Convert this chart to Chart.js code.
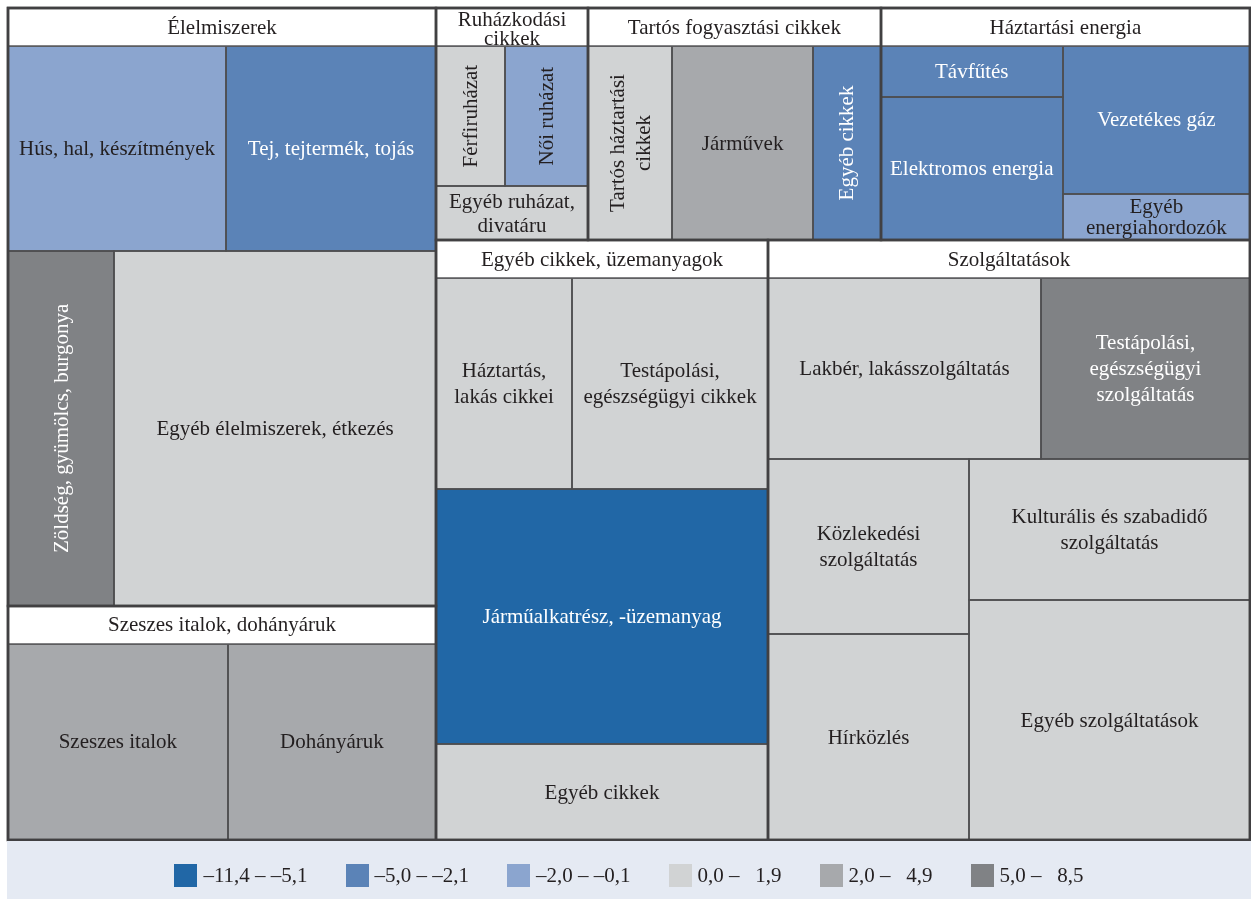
<!DOCTYPE html>
<html>
<head>
<meta charset="utf-8">
<script src="https://cdn.jsdelivr.net/npm/chart.js@4"></script>
<style>
  html, body { margin: 0; padding: 0; background: #ffffff; }
  #wrap { width: 1251px; height: 899px; }
</style>
</head>
<body>
<div id="wrap"><canvas id="myChart"></canvas></div>
<script>
// group headers
const groupNames = [
  "Élelmiszerek",
  "Szeszes italok, dohányáruk",
  "Ruházkodási\ncikkek",
  "Tartós fogyasztási cikkek",
  "Háztartási energia",
  "Egyéb cikkek, üzemanyagok",
  "Szolgáltatások",
];

// leaf cells
const itemNames = [
  "Hús, hal, készítmények",
  "Tej, tejtermék, tojás",
  "Zöldség, gyümölcs, burgonya",
  "Egyéb élelmiszerek, étkezés",
  "Szeszes italok",
  "Dohányáruk",
  "Férfiruházat",
  "Női ruházat",
  "Egyéb ruházat,\ndivatáru",
  "Tartós háztartási\ncikkek",
  "Járművek",
  "Egyéb cikkek",
  "Távfűtés",
  "Elektromos energia",
  "Vezetékes gáz",
  "Egyéb\nenergiahordozók",
  "Háztartás,\nlakás cikkei",
  "Testápolási,\negészségügyi cikkek",
  "Járműalkatrész, -üzemanyag",
  "Egyéb cikkek",
  "Lakbér, lakásszolgáltatás",
  "Testápolási,\negészségügyi\nszolgáltatás",
  "Közlekedési\nszolgáltatás",
  "Hírközlés",
  "Kulturális és szabadidő\nszolgáltatás",
  "Egyéb szolgáltatások",
];

// weights (share of the basket, %)
const itemWeights = [
  4.76, 4.58, 4.01, 12.17,
  4.59, 4.35,
  1.03, 1.24, 0.87,
  1.74, 2.91, 1.40,
  0.99, 2.77, 2.95, 0.92,
  3.06, 4.40, 9.02, 3.39,
  5.26, 4.03, 3.75, 4.41, 4.22, 7.18,
];

// price change class (index into legend bins)
const itemBin = [
  2, 1, 5, 3,
  4, 4,
  3, 2, 3,
  3, 4, 1,
  1, 1, 1, 2,
  3, 3, 0, 3,
  3, 5, 3, 3, 3, 3,
];

const rotatedItems = [2, 6, 7, 9, 11];

const binLabels = [
  "–11,4 – –5,1",
  "–5,0 – –2,1",
  "–2,0 – –0,1",
  "0,0 – \u20071,9",
  "2,0 – \u20074,9",
  "5,0 – \u20078,5",
];
const binColors = ["#2167a6", "#5b83b7", "#8ba5cf", "#d1d3d4", "#a7a9ac", "#808285"];
const whiteText = [0, 1, 5];

// how the cells nest (h = side by side, v = stacked)
const tree = { dir: "h", kids: [
  { dir: "v", kids: [
    { group: 0, dir: "v", kids: [{ dir: "h", kids: [0, 1] }, { dir: "h", kids: [2, 3] }] },
    { group: 1, dir: "h", kids: [4, 5] },
  ] },
  { dir: "v", kids: [
    { dir: "h", kids: [
      { group: 2, dir: "v", kids: [{ dir: "h", kids: [6, 7] }, 8] },
      { group: 3, dir: "h", kids: [9, 10, 11] },
      { group: 4, dir: "h", kids: [{ dir: "v", kids: [12, 13] }, { dir: "v", kids: [14, 15] }] },
    ] },
    { dir: "h", kids: [
      { group: 5, dir: "v", kids: [{ dir: "h", kids: [16, 17] }, 18, 19] },
      { group: 6, dir: "v", kids: [
        { dir: "h", kids: [20, 21] },
        { dir: "h", kids: [{ dir: "v", kids: [22, 23] }, { dir: "v", kids: [24, 25] }] },
      ] },
    ] },
  ] },
] };

const HEADER = 38;
const FONT = "21px 'Liberation Serif', 'DejaVu Serif', serif";
const DARK = "#231f20";

function total(node) {
  if (typeof node === "number") return itemWeights[node];
  return node.kids.reduce((s, k) => s + total(k), 0);
}

// header pixels that sit inside a node vertically
function fixedH(node) {
  if (typeof node === "number") return 0;
  const hs = node.kids.map(fixedH);
  const inner = node.dir === "v" ? hs.reduce((a, b) => a + b, 0) : Math.max(...hs);
  return inner + (node.group !== undefined ? HEADER : 0);
}

function place(node, x0, y0, x1, y1, out) {
  if (typeof node === "number") {
    out.cells.push({ i: node, x0, y0, x1, y1 });
    return;
  }
  if (node.group !== undefined) {
    out.groups.push({ g: node.group, x0, y0, x1, y1 });
    y0 += HEADER;
  }
  const sum = total(node);
  if (node.dir === "h") {
    let x = x0;
    node.kids.forEach((k) => {
      const w = ((x1 - x0) * total(k)) / sum;
      place(k, x, y0, x + w, y1, out);
      x += w;
    });
  } else {
    const free = y1 - y0 - node.kids.reduce((s, k) => s + fixedH(k), 0);
    let y = y0;
    node.kids.forEach((k) => {
      const h = (free * total(k)) / sum + fixedH(k);
      place(k, x0, y, x1, y + h, out);
      y += h;
    });
  }
}

function drawLabel(ctx, text, cx, cy, color, rotate, room) {
  const lines = text.split("\n");
  const lh = Math.min(26, room / lines.length);
  ctx.save();
  ctx.translate(cx, cy);
  if (rotate) ctx.rotate(-Math.PI / 2);
  ctx.fillStyle = color;
  ctx.font = FONT;
  ctx.textAlign = "center";
  ctx.textBaseline = "middle";
  lines.forEach((l, k) => {
    ctx.fillText(l, 0, (k - (lines.length - 1) / 2) * lh + 1);
  });
  ctx.restore();
}

const treemapCells = {
  id: "treemapCells",
  afterDatasetsDraw(chart) {
    const { ctx, scales: { x, y } } = chart;
    const left = x.getPixelForValue(0);
    const right = x.getPixelForValue(100);
    const top = y.getPixelForValue(100);
    const bottom = y.getPixelForValue(0);
    const out = { cells: [], groups: [] };
    place(tree, left, top, right, bottom, out);
    const r = (v) => Math.round(v);

    ctx.save();
    // cells
    out.cells.forEach((c) => {
      ctx.fillStyle = binColors[itemBin[c.i]];
      ctx.fillRect(r(c.x0), r(c.y0), r(c.x1) - r(c.x0), r(c.y1) - r(c.y0));
    });
    ctx.lineWidth = 1.5;
    ctx.strokeStyle = "#4d4d4f";
    out.cells.forEach((c) => {
      ctx.strokeRect(r(c.x0), r(c.y0), r(c.x1) - r(c.x0), r(c.y1) - r(c.y0));
    });
    out.cells.forEach((c) => {
      const rot = rotatedItems.includes(c.i);
      const w = c.x1 - c.x0;
      const h = c.y1 - c.y0;
      const color = whiteText.includes(itemBin[c.i]) ? "#ffffff" : DARK;
      drawLabel(ctx, itemNames[c.i], (c.x0 + c.x1) / 2, (c.y0 + c.y1) / 2, color, rot, (rot ? w : h) - 6);
    });

    // group headers
    out.groups.forEach((g) => {
      ctx.fillStyle = "#ffffff";
      ctx.fillRect(r(g.x0), r(g.y0), r(g.x1) - r(g.x0), HEADER);
      ctx.lineWidth = 1.5;
      ctx.strokeStyle = "#5a5a5c";
      ctx.beginPath();
      ctx.moveTo(r(g.x0), r(g.y0) + HEADER);
      ctx.lineTo(r(g.x1), r(g.y0) + HEADER);
      ctx.stroke();
      const lines = groupNames[g.g].split("\n").length;
      drawLabel(ctx, groupNames[g.g], (g.x0 + g.x1) / 2, g.y0 + HEADER / 2 + (lines > 1 ? 2 : 0), DARK, false, HEADER);
    });
    ctx.lineWidth = 2.5;
    ctx.strokeStyle = "#414042";
    out.groups.forEach((g) => {
      ctx.strokeRect(r(g.x0), r(g.y0), r(g.x1) - r(g.x0), r(g.y1) - r(g.y0));
    });
    ctx.strokeRect(r(left), r(top), r(right) - r(left), r(bottom) - r(top));
    ctx.restore();
  },
};

// legend band under the plot
const binLegend = {
  id: "binLegend",
  afterDraw(chart) {
    const { ctx, chartArea, width, height } = chart;
    ctx.save();
    ctx.fillStyle = "#e5eaf3";
    ctx.fillRect(chartArea.left - 1, chartArea.bottom + 1, width - chartArea.left + 1, height - chartArea.bottom);
    ctx.font = FONT;
    ctx.textBaseline = "middle";
    const box = 23;
    const gap = 6;
    const spacing = 38;
    const widths = binLabels.map((t) => box + gap + ctx.measureText(t).width);
    const totalW = widths.reduce((a, b) => a + b, 0) + spacing * (binLabels.length - 1);
    let x = (chartArea.left + chartArea.right) / 2 - totalW / 2;
    const cy = chartArea.bottom + 35;
    binLabels.forEach((t, i) => {
      ctx.fillStyle = binColors[i];
      ctx.fillRect(Math.round(x), Math.round(cy - box / 2), box, box);
      ctx.fillStyle = DARK;
      ctx.fillText(t, x + box + gap, cy + 1);
      x += widths[i] + spacing;
    });
    ctx.restore();
  },
};

const config = {
  type: "scatter",
  data: { datasets: [{ data: [] }] },
  options: {
    responsive: true,
    maintainAspectRatio: false,
    animation: false,
    layout: { padding: { left: 8, top: 8, right: 1, bottom: 59 } },
    scales: {
      x: { type: "linear", min: 0, max: 100, display: false },
      y: { type: "linear", min: 0, max: 100, display: false },
    },
    plugins: {
      legend: { display: false },
      tooltip: { enabled: false },
    },
  },
  plugins: [treemapCells, binLegend],
};

const myChart = new Chart(document.getElementById("myChart"), config);
</script>
</body>
</html>
